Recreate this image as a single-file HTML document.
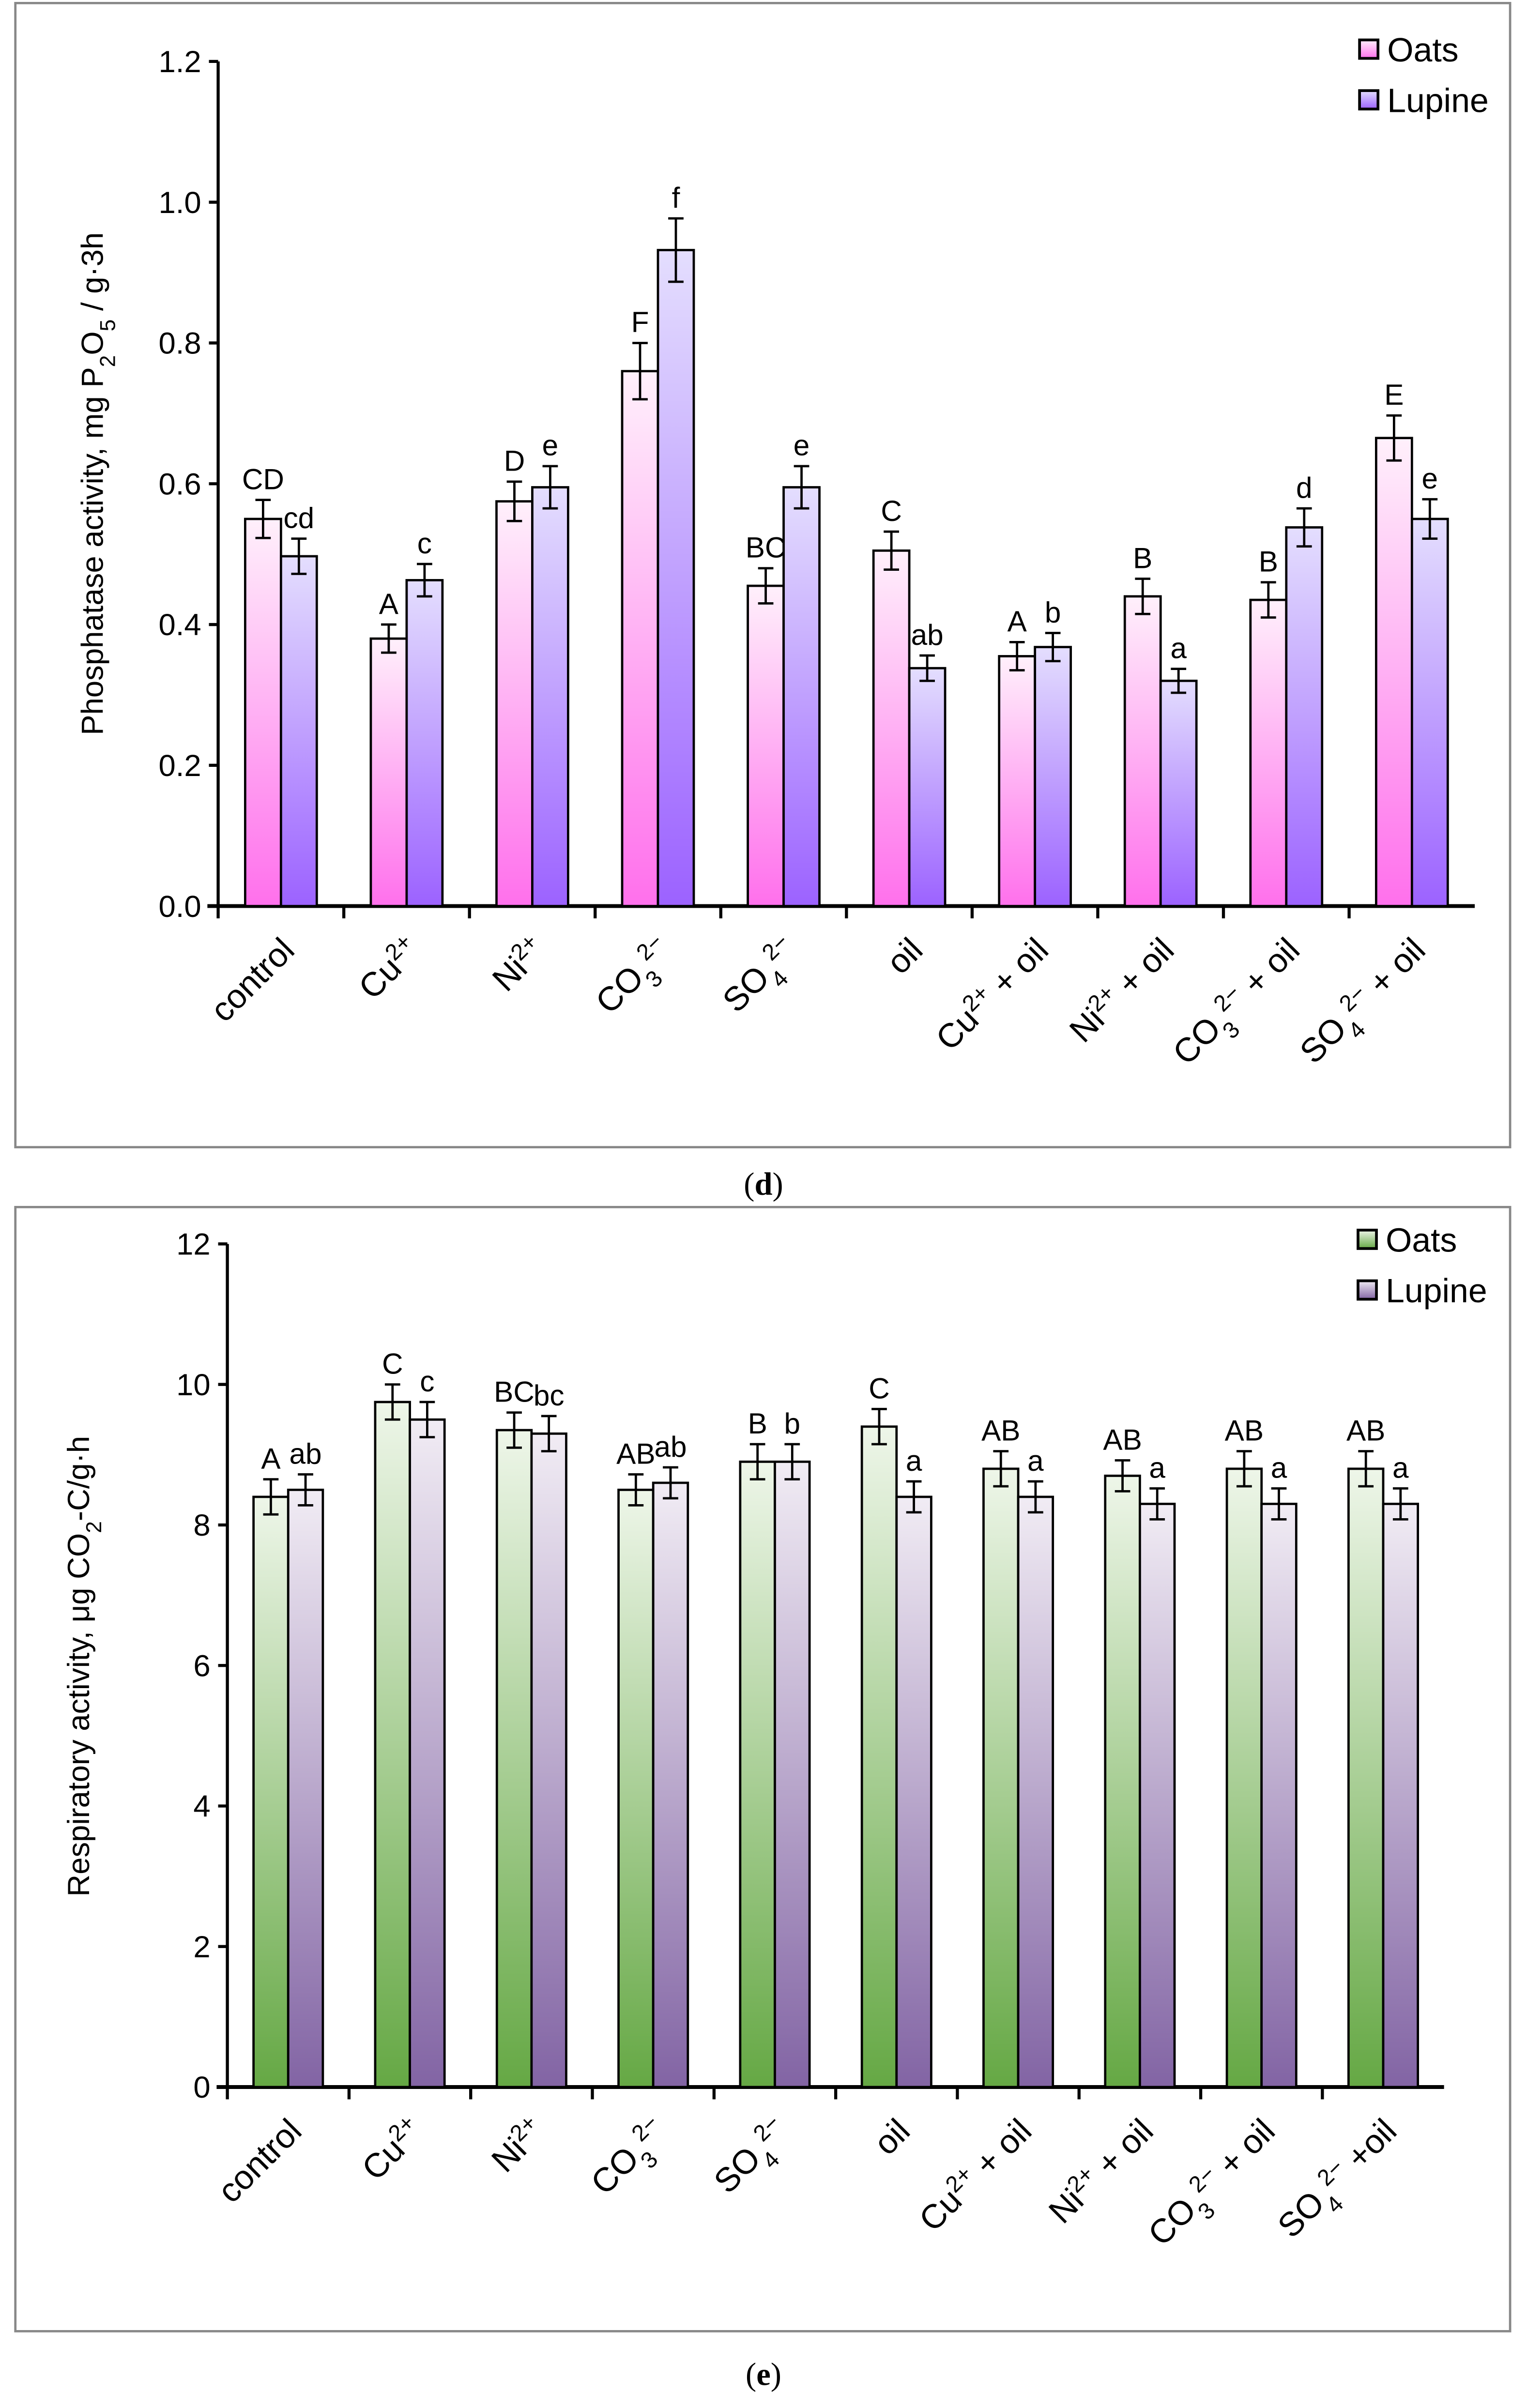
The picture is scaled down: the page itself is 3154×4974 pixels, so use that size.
<!DOCTYPE html>
<html><head><meta charset="utf-8"><style>
html,body{margin:0;padding:0;background:#fff}
svg{display:block;font-family:"Liberation Sans",sans-serif}
</style></head><body>
<svg id="s" width="3154" height="4974" viewBox="0 0 994 1568" preserveAspectRatio="none" xmlns="http://www.w3.org/2000/svg">
<defs>
<linearGradient id="gOd" x1="0" y1="0" x2="0" y2="1"><stop offset="0" stop-color="#fff0fb"/><stop offset="1" stop-color="#ff70ec"/></linearGradient>
<linearGradient id="gLd" x1="0" y1="0" x2="0" y2="1"><stop offset="0" stop-color="#e4defe"/><stop offset="1" stop-color="#9c62ff"/></linearGradient>
<linearGradient id="gOe" x1="0" y1="0" x2="0" y2="1"><stop offset="0" stop-color="#eef6e9"/><stop offset="1" stop-color="#65a844"/></linearGradient>
<linearGradient id="gLe" x1="0" y1="0" x2="0" y2="1"><stop offset="0" stop-color="#f1ecf4"/><stop offset="1" stop-color="#8264a4"/></linearGradient>
</defs>
<rect x="10" y="2" width="973" height="745" fill="none" stroke="#888" stroke-width="1.5"/>
<rect x="10" y="786" width="973" height="732" fill="none" stroke="#888" stroke-width="1.5"/>
<text x="497" y="778" text-anchor="middle" font-family="Liberation Serif,serif" font-size="21">(<tspan font-weight="bold">d</tspan>)</text>
<text x="497" y="1553" text-anchor="middle" font-family="Liberation Serif,serif" font-size="21">(<tspan font-weight="bold">e</tspan>)</text>
<g id="cd"></g><g id="ce"></g>
</svg>
<script>
const catsD = ["control","Cu2+","Ni2+","CO32-","SO42-","oil","Cu2+ + oil","Ni2+ + oil","CO32- + oil","SO42- + oil"];
const oatsD = [0.55,0.38,0.575,0.76,0.455,0.505,0.355,0.44,0.435,0.665];
const lupD = [0.497,0.463,0.595,0.932,0.595,0.338,0.368,0.32,0.538,0.55];
const oatsDErr = [0.027,0.02,0.028,0.04,0.025,0.027,0.02,0.025,0.025,0.032];
const lupDErr = [0.025,0.023,0.03,0.045,0.03,0.018,0.02,0.017,0.027,0.028];
const oatsDLet = ["CD","A","D","F","BC","C","A","B","B","E"];
const lupDLet = ["cd","c","e","f","e","ab","b","a","d","e"];
const ticksD = ["0.0","0.2","0.4","0.6","0.8","1.0","1.2"];
const catsE = ["control","Cu2+","Ni2+","CO32-","SO42-","oil","Cu2+ + oil","Ni2+ + oil","CO32- + oil","SO42- +oil"];
const oatsE = [8.4,9.75,9.35,8.5,8.9,9.4,8.8,8.7,8.8,8.8];
const lupE = [8.5,9.5,9.3,8.6,8.9,8.4,8.4,8.3,8.3,8.3];
const oatsEErr = [0.25,0.25,0.25,0.22,0.25,0.25,0.25,0.22,0.25,0.25];
const lupEErr = [0.22,0.25,0.25,0.22,0.25,0.22,0.22,0.22,0.22,0.22];
const oatsELet = ["A","C","BC","AB","B","C","AB","AB","AB","AB"];
const lupELet = ["ab","c","bc","ab","b","a","a","a","a","a"];
const ticksE = ["0","2","4","6","8","10","12"];

const NS="http://www.w3.org/2000/svg";
function mk(p,t,a){const e=document.createElementNS(NS,t);for(const k in a)e.setAttribute(k,a[k]);p.appendChild(e);return e;}
function labelParts(s){
  const m={"Cu2+":[["Cu",""],["2+","sup"]],"Ni2+":[["Ni",""],["2+","sup"]],"CO32-":[["CO",""],["3","sub"],["2\u2212","sup"]],"SO42-":[["SO",""],["4","sub"],["2\u2212","sup"]]};
  for(const k in m){ if(s.startsWith(k)){ const rest=s.slice(k.length); const r=m[k].slice(); if(rest) r.push([rest,""]); return r; } }
  return [[s,""]];
}
function chart(g,o){
  const {x0,x1,y0,y1,max,cats,a,b,ae,be,al,bl,ticks,ga,gb,title,leg,pre}=o;
  const ys=v=>y0-(v/max)*(y0-y1);
  const gw=(x1-x0)/cats.length, bw=gw*0.285;
  let e=mk(g,"line",{x1:x0,y1:y1,x2:x0,y2:y0,stroke:"#000","stroke-width":2});
  
  
  ticks.forEach((t,i)=>{const v=max*i/(ticks.length-1),y=ys(v);
    mk(g,"line",{x1:x0-6,y1:y,x2:x0,y2:y,stroke:"#000","stroke-width":2});
    const tx=mk(g,"text",{x:x0-11,y:y+7,"text-anchor":"end","font-size":20});tx.textContent=t;
    
    
  });
  e=mk(g,"line",{x1:x0-7,y1:y0,x2:x1,y2:y0,stroke:"#000","stroke-width":2.5});
  
  
  cats.forEach((c,i)=>{
    const cx=x0+gw*(i+0.5);
    mk(g,"line",{x1:x0+gw*i,y1:y0,x2:x0+gw*i,y2:y0+8,stroke:"#000","stroke-width":2});
    [[a,ae,al,ga,cx-bw,"oats"],[b,be,bl,gb,cx,"lupine"]].forEach(([vals,errs,lets,gr,x,nm])=>{
      const v=vals[i],y=ys(v);
      const r=mk(g,"rect",{x:x,y:y,width:bw,height:y0-y,fill:"url(#"+gr+")",stroke:"#000","stroke-width":1.5});
      
      
      const bx=x+bw/2,yt=ys(v+errs[i]),yb=ys(v-errs[i]);
      mk(g,"path",{d:`M${bx},${yt}V${yb}M${bx-5},${yt}H${bx+5}M${bx-5},${yb}H${bx+5}`,stroke:"#000","stroke-width":1.5,fill:"none"});
      const lt=mk(g,"text",{x:bx,y:yt-7,"text-anchor":"middle","font-size":19});lt.textContent=lets[i];
      
      
    });
    const t=mk(g,"text",{x:0,y:0,"text-anchor":"end","font-size":22,transform:`translate(${cx+10},${y0+30}) rotate(-45)`});
    
    
    labelParts(c).forEach(([s,k])=>{const sp=mk(t,"tspan",{});sp.textContent=s;
      if(k==="sup"){sp.setAttribute("font-size","15");sp.setAttribute("baseline-shift","super");}
      if(k==="sub"){sp.setAttribute("font-size","15");sp.setAttribute("baseline-shift","sub");}});
  });
  const tt=mk(g,"text",{"text-anchor":"middle","font-size":20,transform:`translate(${title.x},${title.y}) rotate(-90)`});
  
  
  title.parts.forEach(([s,k])=>{const sp=mk(tt,"tspan",{});sp.textContent=s;
    if(k==="sub"){sp.setAttribute("font-size","14");sp.setAttribute("baseline-shift","sub");}});
  [[ga,"Oats",0],[gb,"Lupine",1]].forEach(([gr,n,j])=>{
    const yy=leg.y+j*33;
    const s=mk(g,"rect",{x:leg.x,y:yy-13,width:12,height:12,fill:"url(#"+gr+")",stroke:"#000","stroke-width":1.8});
    
    
    const lt=mk(g,"text",{x:leg.x+18,y:yy+1,"font-size":22});lt.textContent=n;
    
    
  });
}
chart(document.getElementById("cd"),{x0:142,x1:960,y0:590,y1:40,max:1.2,cats:catsD,a:oatsD,b:lupD,ae:oatsDErr,be:lupDErr,al:oatsDLet,bl:lupDLet,ticks:ticksD,ga:"gOd",gb:"gLd",pre:"chart-d",
  title:{x:67,y:315,parts:[["Phosphatase activity,  mg P",""],["2","sub"],["O",""],["5","sub"],[" / g\u00b73h",""]]},leg:{x:885,y:39}});
chart(document.getElementById("ce"),{x0:148,x1:940,y0:1359,y1:810,max:12,cats:catsE,a:oatsE,b:lupE,ae:oatsEErr,be:lupEErr,al:oatsELet,bl:lupELet,ticks:ticksE,ga:"gOe",gb:"gLe",pre:"chart-e",
  title:{x:58,y:1085,parts:[["Respiratory activity,  \u03bcg CO",""],["2","sub"],["-C/g\u00b7h",""]]},leg:{x:884,y:814}});
</script>
</body></html>
